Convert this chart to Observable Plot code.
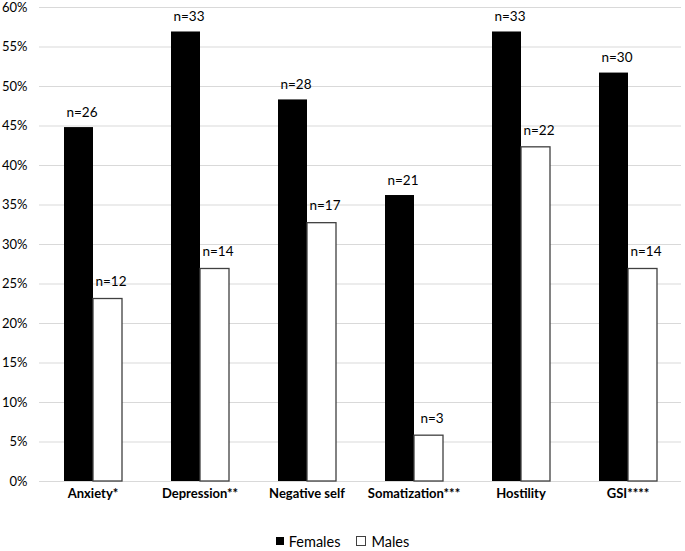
<!DOCTYPE html>
<html>
<head>
<meta charset="utf-8">
<script src="https://cdn.jsdelivr.net/npm/d3@7"></script>
<script src="https://cdn.jsdelivr.net/npm/@observablehq/plot@0.6"></script>
<style>
  body { margin: 0; background: #fff; font-family: Lato, "Liberation Sans", sans-serif; }
  #legend { display: flex; justify-content: center; align-items: center; gap: 16px; font-size: 14.5px; height: 26px; margin-top: 3px; color: #000; }
  .item { display: flex; align-items: center; gap: 5px; }
  .sw { width: 8px; height: 8px; box-sizing: border-box; }
</style>
</head>
<body>
<div id="chart"></div>
<div id="legend">
  <div class="item"><div class="sw" style="background:#000"></div><span>Females</span></div>
  <div class="item"><div class="sw" style="background:#fff;border:1px solid #404040;width:10px;height:10px"></div><span>Males</span></div>
</div>
<script>
const categories = ["Anxiety*", "Depression**", "Negative self", "Somatization***", "Hostility", "GSI****"];
const series = ["Females", "Males"];
const females = [44.8, 56.9, 48.3, 36.2, 56.9, 51.7];
const males = [23.1, 26.9, 32.7, 5.8, 42.3, 26.9];
const femaleN = [26, 33, 28, 21, 33, 30];
const maleN = [12, 14, 17, 3, 22, 14];
const yTicks = [0, 5, 10, 15, 20, 25, 30, 35, 40, 45, 50, 55, 60];

const data = categories.flatMap((c, i) => [
  {category: c, sex: "Females", value: females[i], n: femaleN[i]},
  {category: c, sex: "Males", value: males[i], n: maleN[i]}
]);
const fem = data.filter(d => d.sex === "Females");
const mal = data.filter(d => d.sex === "Males");

const chart = Plot.plot({
  width: 685,
  height: 525,
  marginTop: 7,
  marginBottom: 44,
  marginLeft: 37,
  marginRight: 2,
  style: {fontFamily: "Lato, 'Liberation Sans', sans-serif", fontSize: "12px", color: "#000", background: "#fff"},
  fx: {domain: categories, padding: 0, label: null},
  x: {domain: series, paddingInner: 0, paddingOuter: 0.8, axis: null},
  y: {domain: [0, 60], label: null, axis: null},
  marks: [
    Plot.ruleY(yTicks, {stroke: "#d9d9d9", strokeWidth: 1}),
    Plot.axisY({anchor: "left", ticks: [], line: true, stroke: "#d9d9d9", label: null, tickSize: 0}),
    Plot.axisY({anchor: "right", ticks: [], line: true, stroke: "#d9d9d9", label: null, tickSize: 0}),
    Plot.axisY({anchor: "left", ticks: yTicks, tickFormat: d => d + "%", tickSize: 0, tickPadding: 12, label: null, fontSize: 13}),
    Plot.axisFx({anchor: "bottom", tickSize: 0, tickPadding: 7, label: null, fontWeight: "bold", fontSize: 13}),
    Plot.barY(fem, {fx: "category", x: "sex", y: "value", fill: "#000"}),
    Plot.barY(mal, {fx: "category", x: "sex", y: "value", fill: "#fff", stroke: "#404040", strokeWidth: 1.3}),
    Plot.text(fem, {fx: "category", x: "sex", y: "value", text: d => "n=" + d.n, dy: -15, dx: 3, fontSize: 13.5}),
    Plot.text(mal, {fx: "category", x: "sex", y: "value", text: d => "n=" + d.n, dy: -17, dx: 3, fontSize: 13.5})
  ]
});
document.getElementById("chart").appendChild(chart);
</script>
</body>
</html>
